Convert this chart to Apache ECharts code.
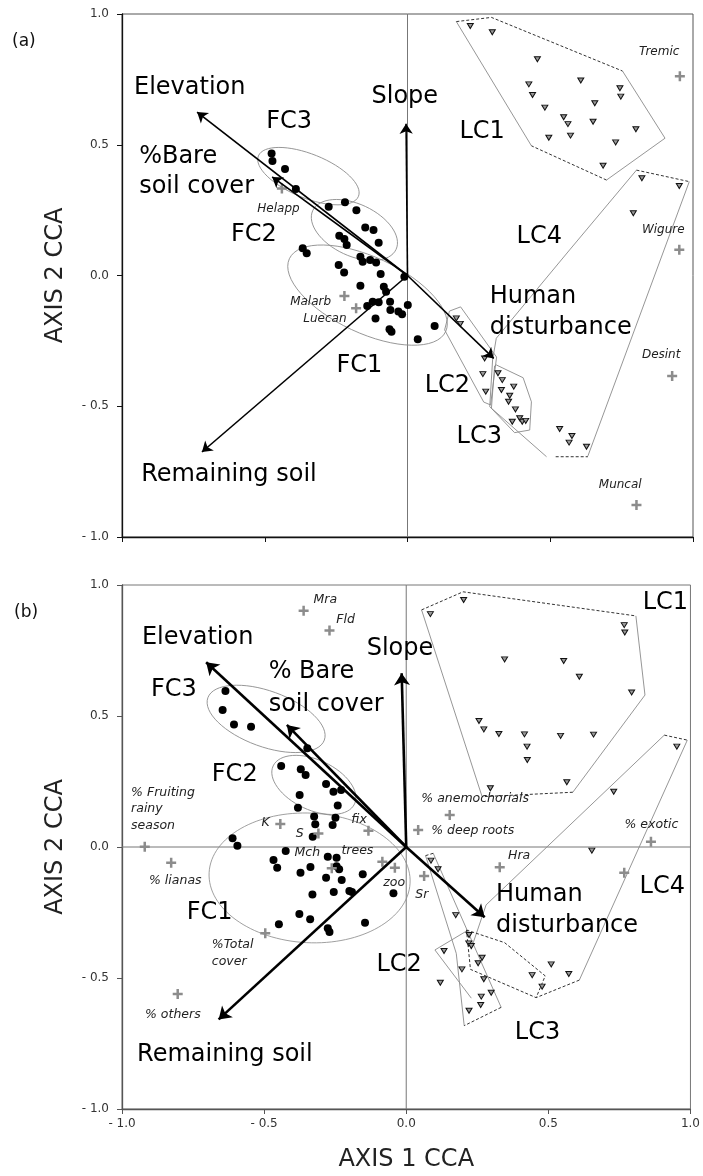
<!DOCTYPE html>
<html>
<head>
<meta charset="utf-8">
<script src="https://cdn.jsdelivr.net/npm/echarts@6/dist/echarts.min.js"></script>
<style>
html,body{margin:0;padding:0;background:#fff;}
#c{width:703px;height:1176px;}
</style>
</head>
<body>
<div id="c"></div>
<script>
// ---------- shared axis ----------
const tickValues = [-1, -0.5, 0, 0.5, 1];
const tickLabels = ['- 1.0', '- 0.5', '0.0', '0.5', '1.0'];

// ---------- panel (a) ----------
const aArrowNames = ['Elevation', '%Bare soil cover', 'Slope', 'Human disturbance', 'Remaining soil'];
const aArrowX = [-0.737, -0.474, -0.005, 0.302, -0.720];
const aArrowY = [0.625, 0.377, 0.580, -0.317, -0.675];

const aDotX = [-0.476,-0.473,-0.429,-0.391,-0.276,-0.219,-0.179,-0.148,-0.119,-0.239,-0.221,-0.213,-0.101,-0.367,-0.353,-0.165,-0.157,-0.131,-0.110,-0.094,-0.241,-0.222,-0.011,-0.165,-0.083,-0.075,-0.061,-0.122,-0.101,0.001,-0.141,-0.060,-0.032,-0.019,-0.112,-0.063,-0.056,0.036,0.095];
const aDotY = [0.467,0.438,0.407,0.331,0.263,0.280,0.250,0.184,0.174,0.152,0.140,0.117,0.125,0.104,0.085,0.072,0.053,0.059,0.050,0.006,0.040,0.011,-0.005,-0.039,-0.043,-0.062,-0.100,-0.100,-0.102,-0.113,-0.117,-0.132,-0.138,-0.148,-0.164,-0.206,-0.215,-0.244,-0.193];

const aTriX = [0.220,0.297,0.455,0.607,0.425,0.438,0.744,0.747,0.656,0.481,0.547,0.562,0.650,0.800,0.495,0.571,0.729,0.685,0.821,0.952,0.791,0.171,0.185,0.270,0.264,0.274,0.317,0.332,0.329,0.372,0.358,0.354,0.378,0.367,0.393,0.402,0.414,0.533,0.576,0.566,0.627];
const aTriY = [0.954,0.930,0.827,0.746,0.731,0.690,0.716,0.684,0.659,0.642,0.605,0.579,0.588,0.559,0.527,0.535,0.509,0.420,0.372,0.342,0.238,-0.164,-0.185,-0.317,-0.377,-0.444,-0.374,-0.400,-0.438,-0.425,-0.460,-0.483,-0.512,-0.559,-0.546,-0.559,-0.556,-0.587,-0.614,-0.639,-0.655];

const aSpecies = ['Tremic', 'Wigure', 'Desint', 'Muncal', 'Helapp', 'Malarb', 'Luecan'];
const aSpX = [0.954, 0.952, 0.927, 0.802, -0.440, -0.221, -0.180];
const aSpY = [0.762, 0.098, -0.384, -0.878, 0.333, -0.078, -0.125];
const aSpLabelX = [0.811, 0.821, 0.821, 0.670, -0.526, -0.411, -0.365];
const aSpLabelY = [0.855, 0.174, -0.304, -0.801, 0.254, -0.101, -0.166];

const aBigText = ['Elevation', 'FC3', '%Bare', 'soil cover', 'Slope', 'LC1', 'FC2', 'LC4', 'Human', 'disturbance', 'FC1', 'LC2', 'LC3', 'Remaining soil'];
const aBigX = [-0.958, -0.495, -0.940, -0.940, -0.126, 0.182, -0.618, 0.382, 0.288, 0.288, -0.249, 0.060, 0.172, -0.933];
const aBigY = [0.717, 0.587, 0.453, 0.338, 0.685, 0.549, 0.155, 0.147, -0.082, -0.201, -0.344, -0.423, -0.618, -0.763];

// ellipses: [centre x, centre y, semi-major, semi-minor (x-axis units), tilt deg clockwise]
const aEllipses = [
  [-0.347, 0.380, 0.189, 0.077, 22],
  [-0.186, 0.174, 0.161, 0.091, 25],
  [-0.140, -0.075, 0.302, 0.133, 25]
];
const aSolidPaths = [
  [[0.753,0.782],[0.902,0.525],[0.697,0.365]],
  [[0.434,0.496],[0.171,0.971]],
  [[0.987,0.359],[0.632,-0.690]],
  [[0.487,-0.693],[0.288,-0.502],[0.298,-0.323],[0.311,-0.240],[0.568,0.098],[0.802,0.403]],
  [[0.147,-0.136],[0.186,-0.120],[0.312,-0.312],[0.291,-0.495],[0.267,-0.484],[0.130,-0.208],[0.147,-0.136]],
  [[0.311,-0.342],[0.405,-0.391],[0.434,-0.483],[0.428,-0.591],[0.375,-0.601],[0.294,-0.508],[0.305,-0.346],[0.311,-0.342]]
];
const aDashedPaths = [
  [[0.171,0.971],[0.294,0.987],[0.753,0.782]],
  [[0.697,0.365],[0.434,0.496]],
  [[0.802,0.403],[0.987,0.359]],
  [[0.519,-0.693],[0.632,-0.693]]
];

// ---------- panel (b) ----------
const bArrowNames = ['Elevation', '% Bare soil cover', 'Slope', 'Human disturbance', 'Remaining soil'];
const bArrowX = [-0.704, -0.420, -0.016, 0.276, -0.660];
const bArrowY = [0.705, 0.466, 0.663, -0.268, -0.658];

const bDotX = [-0.636,-0.646,-0.606,-0.546,-0.348,-0.440,-0.371,-0.354,-0.282,-0.256,-0.229,-0.375,-0.241,-0.381,-0.324,-0.249,-0.320,-0.259,-0.329,-0.611,-0.594,-0.424,-0.467,-0.454,-0.276,-0.245,-0.245,-0.236,-0.372,-0.337,-0.282,-0.227,-0.153,-0.330,-0.255,-0.200,-0.191,-0.045,-0.376,-0.448,-0.338,-0.145,-0.276,-0.270];
const bDotY = [0.595,0.523,0.468,0.459,0.377,0.309,0.297,0.275,0.240,0.211,0.218,0.198,0.158,0.150,0.116,0.112,0.087,0.084,0.039,0.033,0.005,-0.015,-0.050,-0.079,-0.037,-0.041,-0.073,-0.085,-0.098,-0.076,-0.117,-0.126,-0.104,-0.181,-0.172,-0.168,-0.172,-0.177,-0.256,-0.295,-0.276,-0.289,-0.310,-0.324];

const bTriX = [0.202,0.085,0.767,0.769,0.346,0.554,0.609,0.793,0.256,0.273,0.326,0.416,0.543,0.659,0.425,0.426,0.565,0.296,0.730,0.952,0.653,0.087,0.112,0.174,0.133,0.220,0.196,0.120,0.273,0.267,0.253,0.443,0.510,0.572,0.478,0.264,0.299,0.262,0.221,0.221,0.229];
const bTriY = [0.943,0.889,0.847,0.819,0.716,0.710,0.650,0.590,0.481,0.449,0.431,0.430,0.424,0.429,0.383,0.332,0.247,0.224,0.211,0.383,-0.014,-0.052,-0.085,-0.260,-0.397,-0.368,-0.467,-0.518,-0.505,-0.423,-0.444,-0.489,-0.448,-0.485,-0.533,-0.571,-0.556,-0.603,-0.625,-0.336,-0.378];

const bSpX = [-0.361,-0.270,-0.920,-0.827,-0.496,-0.804,-0.443,-0.309,-0.133,-0.262,-0.084,-0.040,0.063,0.042,0.153,0.329,0.861,0.767];
const bSpY = [0.902,0.826,0.001,-0.060,-0.329,-0.561,0.088,0.052,0.062,-0.081,-0.056,-0.079,-0.111,0.065,0.122,-0.077,0.020,-0.098];

const bSmallText = ['Mra', 'Fld', '% Fruiting\nrainy\nseason', '% lianas', '%Total\ncover', '% others', 'K', 'S', 'fix', 'Mch', 'trees', 'zoo', 'Sr', '% deep roots', '% anemochorials', 'Hra', '% exotic'];
const bSmallX = [-0.326, -0.246, -0.968, -0.905, -0.684, -0.919, -0.509, -0.389, -0.193, -0.393, -0.228, -0.081, 0.032, 0.088, 0.053, 0.358, 0.768];
const bSmallY = [0.943, 0.866, 0.145, -0.130, -0.406, -0.639, 0.094, 0.050, 0.103, -0.021, -0.013, -0.135, -0.183, 0.061, 0.185, -0.034, 0.086];

const bBigText = ['Elevation', '% Bare', 'soil cover', 'Slope', 'LC1', 'FC3', 'FC2', 'Human', 'disturbance', 'LC4', 'LC2', 'LC3', 'FC1', 'Remaining soil'];
const bBigX = [-0.930, -0.484, -0.484, -0.139, 0.832, -0.898, -0.684, 0.316, 0.316, 0.821, -0.105, 0.382, -0.772, -0.947];
const bBigY = [0.798, 0.668, 0.542, 0.758, 0.931, 0.599, 0.275, -0.183, -0.302, -0.153, -0.450, -0.710, -0.252, -0.794];

const bEllipses = [
  [-0.493, 0.489, 0.218, 0.098, 20],
  [-0.325, 0.237, 0.158, 0.088, 25],
  [-0.340, -0.118, 0.354, 0.228, 3]
];
const bSolidPaths = [
  [[0.808,0.882],[0.840,0.580],[0.586,0.209]],
  [[0.267,0.192],[0.054,0.905]],
  [[0.989,0.408],[0.609,-0.508]],
  [[0.908,0.427],[0.281,-0.221],[0.228,-0.390]],
  [[0.095,-0.024],[0.334,-0.612]],
  [[0.204,-0.682],[0.176,-0.406],[0.068,-0.033]],
  [[0.218,-0.317],[0.101,-0.393],[0.229,-0.577]]
];
const bDashedPaths = [
  [[0.054,0.905],[0.200,0.974],[0.808,0.882]],
  [[0.586,0.209],[0.267,0.192]],
  [[0.908,0.427],[0.989,0.408]],
  [[0.609,-0.508],[0.457,-0.575]],
  [[0.212,-0.317],[0.346,-0.365],[0.489,-0.492],[0.457,-0.575],[0.226,-0.467],[0.212,-0.317]],
  [[0.334,-0.612],[0.204,-0.682]],
  [[0.068,-0.033],[0.095,-0.024]]
];

// ---------- styles ----------
const FONT = 'DejaVu Sans';
const PLUS = 'path://M3,0H5V3H8V5H5V8H3V5H0V3H3Z';

function ellipseRender(params, api) {
  const c = api.coord([api.value(0), api.value(1)]);
  const rx = api.size([api.value(2), 0])[0];
  const ry = api.size([api.value(3), 0])[0];
  const ang = api.value(4) * Math.PI / 180;
  return {
    type: 'ellipse',
    x: c[0], y: c[1], rotation: -ang,
    shape: { cx: 0, cy: 0, rx: rx, ry: ry },
    style: { fill: 'none', stroke: '#8a8a8a', lineWidth: 0.8 }
  };
}

function panelSeries(idx, d) {
  const ax = { xAxisIndex: idx, yAxisIndex: idx };
  const s = [];
  s.push(Object.assign({
    type: 'lines', coordinateSystem: 'cartesian2d', polyline: true, silent: true, z: 1,
    data: d.zero.map(p => ({ coords: p })),
    lineStyle: { color: '#777', width: 1, opacity: 1 }
  }, ax));
  s.push(Object.assign({
    type: 'custom', silent: true, z: 2, renderItem: ellipseRender,
    encode: { x: 0, y: 1 }, data: d.ell
  }, ax));
  s.push(Object.assign({
    type: 'lines', coordinateSystem: 'cartesian2d', polyline: true, silent: true, z: 2,
    data: d.solid.map(p => ({ coords: p })),
    lineStyle: { color: '#8a8a8a', width: 0.9, opacity: 1 }
  }, ax));
  s.push(Object.assign({
    type: 'lines', coordinateSystem: 'cartesian2d', polyline: true, silent: true, z: 2,
    data: d.dashed.map(p => ({ coords: p })),
    lineStyle: { color: '#333', width: 1, type: [3, 2], opacity: 1 }
  }, ax));
  s.push(Object.assign({
    type: 'scatter', name: 'FC sites', silent: true, z: 3,
    symbol: 'circle', symbolSize: 8, itemStyle: { color: '#000', opacity: 1 },
    data: d.dotX.map((x, i) => [x, d.dotY[i]])
  }, ax));
  s.push(Object.assign({
    type: 'scatter', name: 'LC sites', silent: true, z: 3,
    symbol: 'triangle', symbolRotate: 180, symbolSize: [6, 5],
    itemStyle: { color: '#999', borderColor: '#111', borderWidth: 1, opacity: 1 },
    data: d.triX.map((x, i) => [x, d.triY[i]])
  }, ax));
  s.push(Object.assign({
    type: 'scatter', name: 'species', silent: true, z: 3,
    symbol: PLUS, symbolSize: 10, itemStyle: { color: '#8c8c8c', opacity: 1 },
    data: d.spX.map((x, i) => [x, d.spY[i]])
  }, ax));
  s.push(Object.assign({
    type: 'lines', coordinateSystem: 'cartesian2d', silent: true, z: 4,
    symbol: ['none', 'arrow'], symbolSize: d.arrowHead,
    data: d.arX.map((x, i) => ({ name: d.arNames[i], coords: [[0, 0], [x, d.arY[i]]] })),
    lineStyle: { color: '#000', width: d.arrowWidth, opacity: 1, curveness: 0 }
  }, ax));
  s.push(Object.assign({
    type: 'scatter', silent: true, z: 5, symbolSize: 0, itemStyle: { color: 'transparent' },
    data: d.bigText.map((t, i) => ({ name: t, value: [d.bigX[i], d.bigY[i]] })),
    label: { show: true, position: [0, 0], align: 'left', verticalAlign: 'middle',
      formatter: '{b}', fontFamily: FONT, fontSize: 24, color: '#000',
      textBorderWidth: 0, opacity: 1 }
  }, ax));
  s.push(Object.assign({
    type: 'scatter', silent: true, z: 5, symbolSize: 0, itemStyle: { color: 'transparent' },
    data: d.smallText.map((t, i) => ({ name: t, value: [d.smallX[i], d.smallY[i]] })),
    label: { show: true, position: [0, 0], align: 'left', verticalAlign: 'middle',
      formatter: '{b}', fontFamily: FONT, fontStyle: 'italic', fontSize: d.smallSize,
      lineHeight: 16.5, color: '#222', textBorderWidth: 0, opacity: 1 }
  }, ax));
  return s;
}

const axisLabelFmt = v => tickLabels[Math.round((v + 1) * 2)];
const labelStyle = { fontFamily: FONT, fontSize: 12, color: '#333' };
const nameStyle = { fontFamily: FONT, fontSize: 24, color: '#222' };

function xAxis(idx, showLabels) {
  return {
    gridIndex: idx, type: 'value', min: -1, max: 1, interval: 0.5,
    axisLine: { onZero: false, lineStyle: { color: idx === 0 ? '#111' : '#555', width: 1.3 } },
    axisTick: { show: true, length: 5, lineStyle: { color: idx === 0 ? '#111' : '#555' } },
    axisLabel: Object.assign({ show: showLabels, formatter: axisLabelFmt, margin: 9 }, labelStyle),
    splitLine: { show: false },
    name: showLabels ? 'AXIS 1 CCA' : '', nameLocation: 'middle', nameGap: 39, nameTextStyle: nameStyle
  };
}
function yAxis(idx) {
  return {
    gridIndex: idx, type: 'value', min: -1, max: 1, interval: 0.5,
    axisLine: { onZero: false, lineStyle: { color: idx === 0 ? '#111' : '#555', width: 1.3 } },
    axisTick: { show: true, length: 5, lineStyle: { color: idx === 0 ? '#111' : '#555' } },
    axisLabel: Object.assign({ formatter: axisLabelFmt, margin: 13 }, labelStyle),
    splitLine: { show: false },
    name: 'AXIS 2 CCA', nameLocation: 'middle', nameGap: 54, nameTextStyle: nameStyle
  };
}

const seriesA = panelSeries(0, {
  zero: [[[0, -1], [0, 1]]],
  ell: aEllipses, solid: aSolidPaths, dashed: aDashedPaths,
  dotX: aDotX, dotY: aDotY, triX: aTriX, triY: aTriY, spX: aSpX, spY: aSpY,
  arX: aArrowX, arY: aArrowY, arNames: aArrowNames, arrowWidth: 1.6, arrowHead: 10,
  bigText: aBigText, bigX: aBigX, bigY: aBigY,
  smallText: aSpecies, smallX: aSpLabelX, smallY: aSpLabelY, smallSize: 12
});
const seriesB = panelSeries(1, {
  zero: [[[0, -1], [0, 1]], [[-1, 0], [1, 0]]],
  ell: bEllipses, solid: bSolidPaths, dashed: bDashedPaths,
  dotX: bDotX, dotY: bDotY, triX: bTriX, triY: bTriY, spX: bSpX, spY: bSpY,
  arX: bArrowX, arY: bArrowY, arNames: bArrowNames, arrowWidth: 2.6, arrowHead: 12,
  bigText: bBigText, bigX: bBigX, bigY: bBigY,
  smallText: bSmallText, smallX: bSmallX, smallY: bSmallY, smallSize: 12.5
});

const chart = echarts.init(document.getElementById('c'), null, { renderer: 'canvas' });
chart.setOption({
  animation: false,
  backgroundColor: '#fff',
  grid: [
    { left: 122, top: 14, width: 571, height: 523, show: true, borderColor: '#555', borderWidth: 1 },
    { left: 122, top: 585, width: 571, height: 524, show: true, borderColor: '#777', borderWidth: 1 }
  ],
  xAxis: [xAxis(0, false), xAxis(1, true)],
  yAxis: [yAxis(0), yAxis(1)],
  graphic: [
    { type: 'text', left: 12, top: 33, style: { text: '(a)', font: '17px "DejaVu Sans"', fill: '#111' } },
    { type: 'text', left: 14, top: 604, style: { text: '(b)', font: '17px "DejaVu Sans"', fill: '#111' } }
  ],
  series: seriesA.concat(seriesB)
});
</script>
</body>
</html>
